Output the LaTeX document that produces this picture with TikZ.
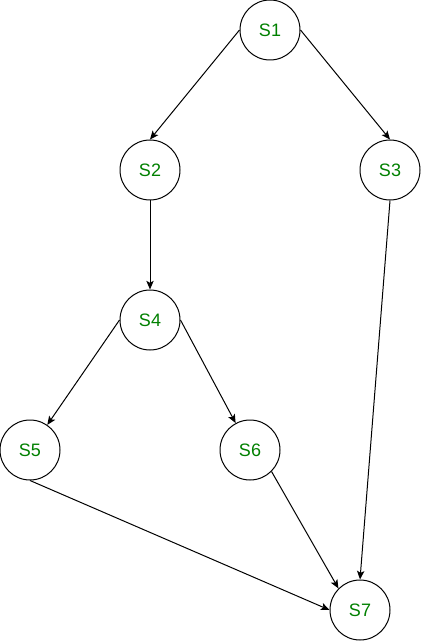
\documentclass[tikz,border=0pt]{standalone}
\usepackage{fontspec}
\setmainfont{Liberation Sans}
\usetikzlibrary{arrows.meta,shapes}
\definecolor{stmtgreen}{RGB}{0,128,0}

\begin{document}
\begin{tikzpicture}[x=0.75pt,y=-0.75pt,line width=0.75pt,
		stmt/.style={circle, draw, minimum size=45pt, inner sep=0pt, text=stmtgreen, font=\fontsize{13.5}{16}\selectfont},
		>={Stealth[length=6.5pt,width=5.5pt,inset=1.5pt]}]
		\useasboundingbox (0,0) rectangle (421,641);
		\path (270, 30) node[stmt] (s1) {S1}
  		(150, 170) node[stmt] (s2) {S2}
  		(390, 170) node[stmt] (s3) {S3}
  		(150, 320) node[stmt] (s4) {S4}
  		(30, 450) node[stmt] (s5) {S5}
  		(250, 450) node[stmt] (s6) {S6}
  		(360, 610) node[stmt] (s7) {S7};

		\draw[->] (s1.west) -- (s2.north);
		\draw[->] (s1.east) -- (s3.north);
		\draw[->] (s2.south) -- (s4.north);
		\draw[->] (s3.south) -- (s7.north);
		\draw[->] (s4.west) -- (s5);
		\draw[->] (s4.east) -- (s6);
		\draw[->] (s5.south) -- (s7.west);
		\draw[->] (s6.south east) -- (s7.north west);
	\end{tikzpicture}
\end{document}
